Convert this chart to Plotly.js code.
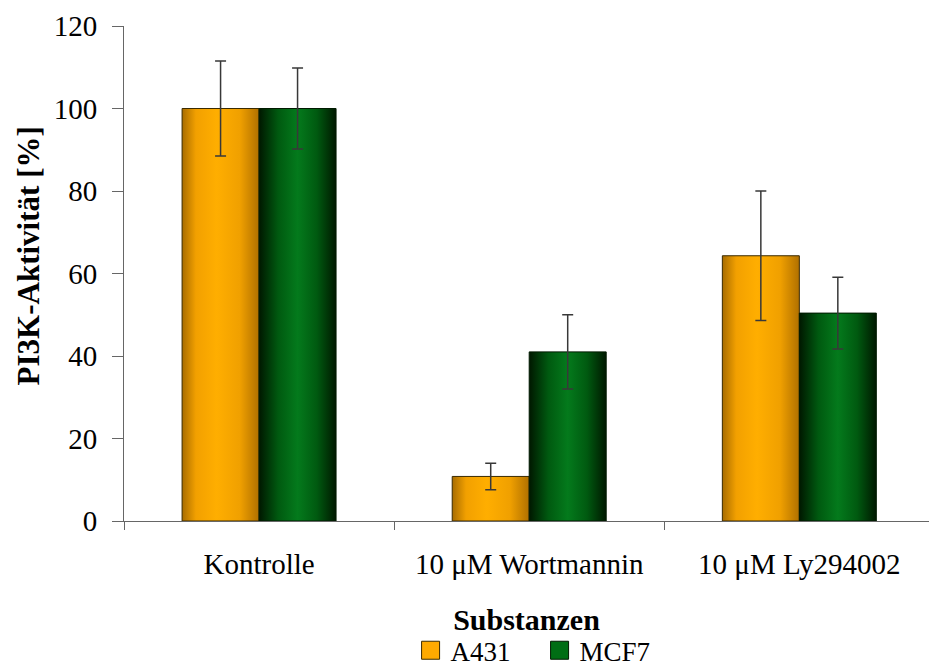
<!DOCTYPE html>
<html>
<head>
<meta charset="utf-8">
<script src="https://cdn.plot.ly/plotly-3.0.1.min.js"></script>
<style>html,body{margin:0;padding:0;background:#fff;}#chart{width:929px;height:669px;}</style>
</head>
<body>
<div id="chart"></div>
<script>
const categories = ["Kontrolle", "10 μM Wortmannin", "10 μM Ly294002"];
const seriesNames = ["A431", "MCF7"];
const a431Values = [100, 10.8, 64.3];
const a431Errors = [11.5, 3.2, 15.7];
const mcf7Values = [100, 41, 50.4];
const mcf7Errors = [9.8, 9.0, 8.7];
const yTicks = [0, 20, 40, 60, 80, 100, 120];
const yTitle = 'PI3K-Aktivität [%]';
const xTitle = 'Substanzen';

const serif = '"Liberation Serif", "DejaVu Serif", serif';

const traces = [
  {
    type: 'bar', name: seriesNames[0], x: categories, y: a431Values,
    marker: {color: '#ffaa00', line: {color: '#3a2a00', width: 1}},
    error_y: {type: 'data', array: a431Errors, visible: true, color: '#383838', thickness: 1.5, width: 5.5}
  },
  {
    type: 'bar', name: seriesNames[1], x: categories, y: mcf7Values,
    marker: {color: '#006e14', line: {color: '#001a00', width: 1}},
    error_y: {type: 'data', array: mcf7Errors, visible: true, color: '#383838', thickness: 1.5, width: 5.5}
  }
];

const layout = {
  width: 929, height: 669,
  margin: {l: 124, r: 0, t: 26, b: 148, autoexpand: false},
  paper_bgcolor: '#fff', plot_bgcolor: '#fff',
  font: {family: serif, size: 29, color: '#000'},
  barmode: 'group', bargap: 0.43, bargroupgap: 0,
  showlegend: true,
  legend: {orientation: 'h', x: 0.356, xanchor: 'left', y: -0.262, yanchor: 'middle',
           font: {family: serif, size: 27, color: '#000'}, entrywidth: 84, entrywidthmode: 'pixels',
           tracegroupgap: 0},
  xaxis: {
    type: 'category', range: [-0.5, 2.48], automargin: false,
    showline: true, linecolor: '#666', linewidth: 1,
    ticks: 'outside', tickson: 'boundaries', ticklen: 8, tickcolor: '#666',
    showgrid: false, zeroline: false,
    tickfont: {family: serif, size: 29, color: '#000'},
    ticklabelstandoff: 17,
    title: {text: '<b>' + xTitle + '</b>', font: {family: serif, size: 30, color: '#000'}, standoff: 30}
  },
  yaxis: {
    range: [0, 120], tickvals: yTicks, ticktext: yTicks.map(String), automargin: false,
    showline: true, linecolor: '#666', linewidth: 1,
    ticks: 'outside', ticklen: 11, tickcolor: '#666',
    showgrid: false, zeroline: false,
    tickfont: {family: serif, size: 29, color: '#000'},
    ticklabelstandoff: 9
  },
  annotations: [{
    text: '<b>' + yTitle + '</b>', textangle: -90, showarrow: false,
    xref: 'paper', yref: 'paper', x: -0.119, y: 0.535, xanchor: 'center', yanchor: 'middle',
    font: {family: serif, size: 31, color: '#000'}
  }]
};

Plotly.newPlot('chart', traces, layout, {displayModeBar: false, staticPlot: true}).then(function (gd) {
  const NS = 'http://www.w3.org/2000/svg';
  const svg = gd.querySelector('.main-svg');
  let defs = svg.querySelector('defs');
  if (!defs) { defs = document.createElementNS(NS, 'defs'); svg.insertBefore(defs, svg.firstChild); }
  const grads = {
    gA431: [[0, '#a86c00'], [0.18, '#f2a000'], [0.45, '#ffae00'], [0.75, '#f0a000'], [1, '#b07000']],
    gMCF7: [[0, '#001800'], [0.25, '#005a10'], [0.5, '#047a1c'], [0.75, '#005a10'], [1, '#001800']]
  };
  Object.keys(grads).forEach(function (id) {
    const lg = document.createElementNS(NS, 'linearGradient');
    lg.setAttribute('id', id);
    lg.setAttribute('x1', '0'); lg.setAttribute('y1', '0');
    lg.setAttribute('x2', '1'); lg.setAttribute('y2', '0');
    grads[id].forEach(function (s) {
      const st = document.createElementNS(NS, 'stop');
      st.setAttribute('offset', s[0]);
      st.setAttribute('stop-color', s[1]);
      lg.appendChild(st);
    });
    defs.appendChild(lg);
  });
  const ids = ['gA431', 'gMCF7'];
  gd.querySelectorAll('.barlayer .trace').forEach(function (tr, i) {
    tr.querySelectorAll('.point path').forEach(function (p) {
      p.style.fill = 'url(#' + ids[i] + ')';
    });
  });
  gd.querySelectorAll('.legend .legendpoints path').forEach(function (p) {
    p.setAttribute('d', 'M9,9H-9V-9H9Z');
  });
});
</script>
</body>
</html>
